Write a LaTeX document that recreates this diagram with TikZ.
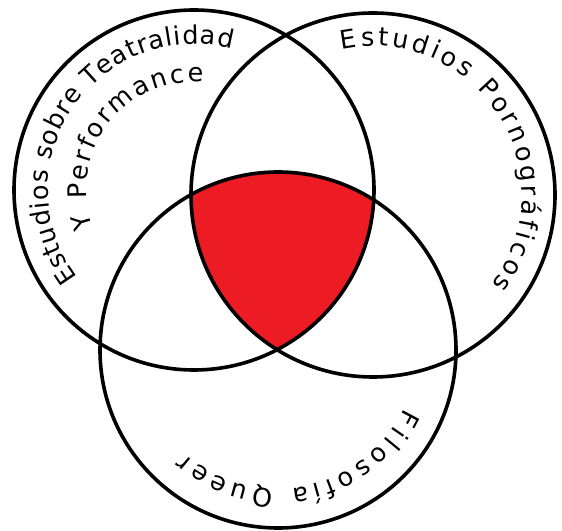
\documentclass[tikz,border=0pt]{standalone}
\usepackage{fontspec}
\setmainfont{DejaVu Sans}
\usetikzlibrary{decorations.text}
\definecolor{vennred}{RGB}{237,28,36}
\newcommand\venntxt{\fontsize{25.5}{30}\selectfont}
\tikzset{
  ring/.style={draw=black, line width=3.6pt},
  arctext/.style={decorate, decoration={text along path, text align=fit to path, text={|\venntxt|#1}}},
}
\begin{document}
\begin{tikzpicture}[x=1pt, y=1pt]
  \useasboundingbox (0,0) rectangle (562,530);
  \coordinate (L) at (194,340);
  \coordinate (R) at (373,335);
  \coordinate (B) at (278,180);
  % triple intersection
  \begin{scope}
    \clip (L) circle[radius=180pt];
    \clip (R) circle[radius=182pt];
    \fill[vennred] (B) circle[radius=178pt];
  \end{scope}
  \draw[ring] (L) circle[radius=180pt];
  \draw[ring] (R) circle[radius=182pt];
  \draw[ring] (B) circle[radius=178pt];
  % labels
  \path[arctext={Estudios sobre Teatralidad}] (L) ++(217:146pt) arc[start angle=217, end angle=75, radius=146pt];
  \path[arctext={Y Performance}] (L) ++(200:108pt) arc[start angle=200, end angle=85, radius=108pt];
  \path[arctext={Estudios Pornográficos}] (R) ++(102:149pt) arc[start angle=102, end angle=-37, radius=149pt];
  \path[arctext={Filosofía Queer}] (B) ++(-25:139pt) arc[start angle=-25, end angle=-132, radius=139pt];
\end{tikzpicture}
\end{document}
